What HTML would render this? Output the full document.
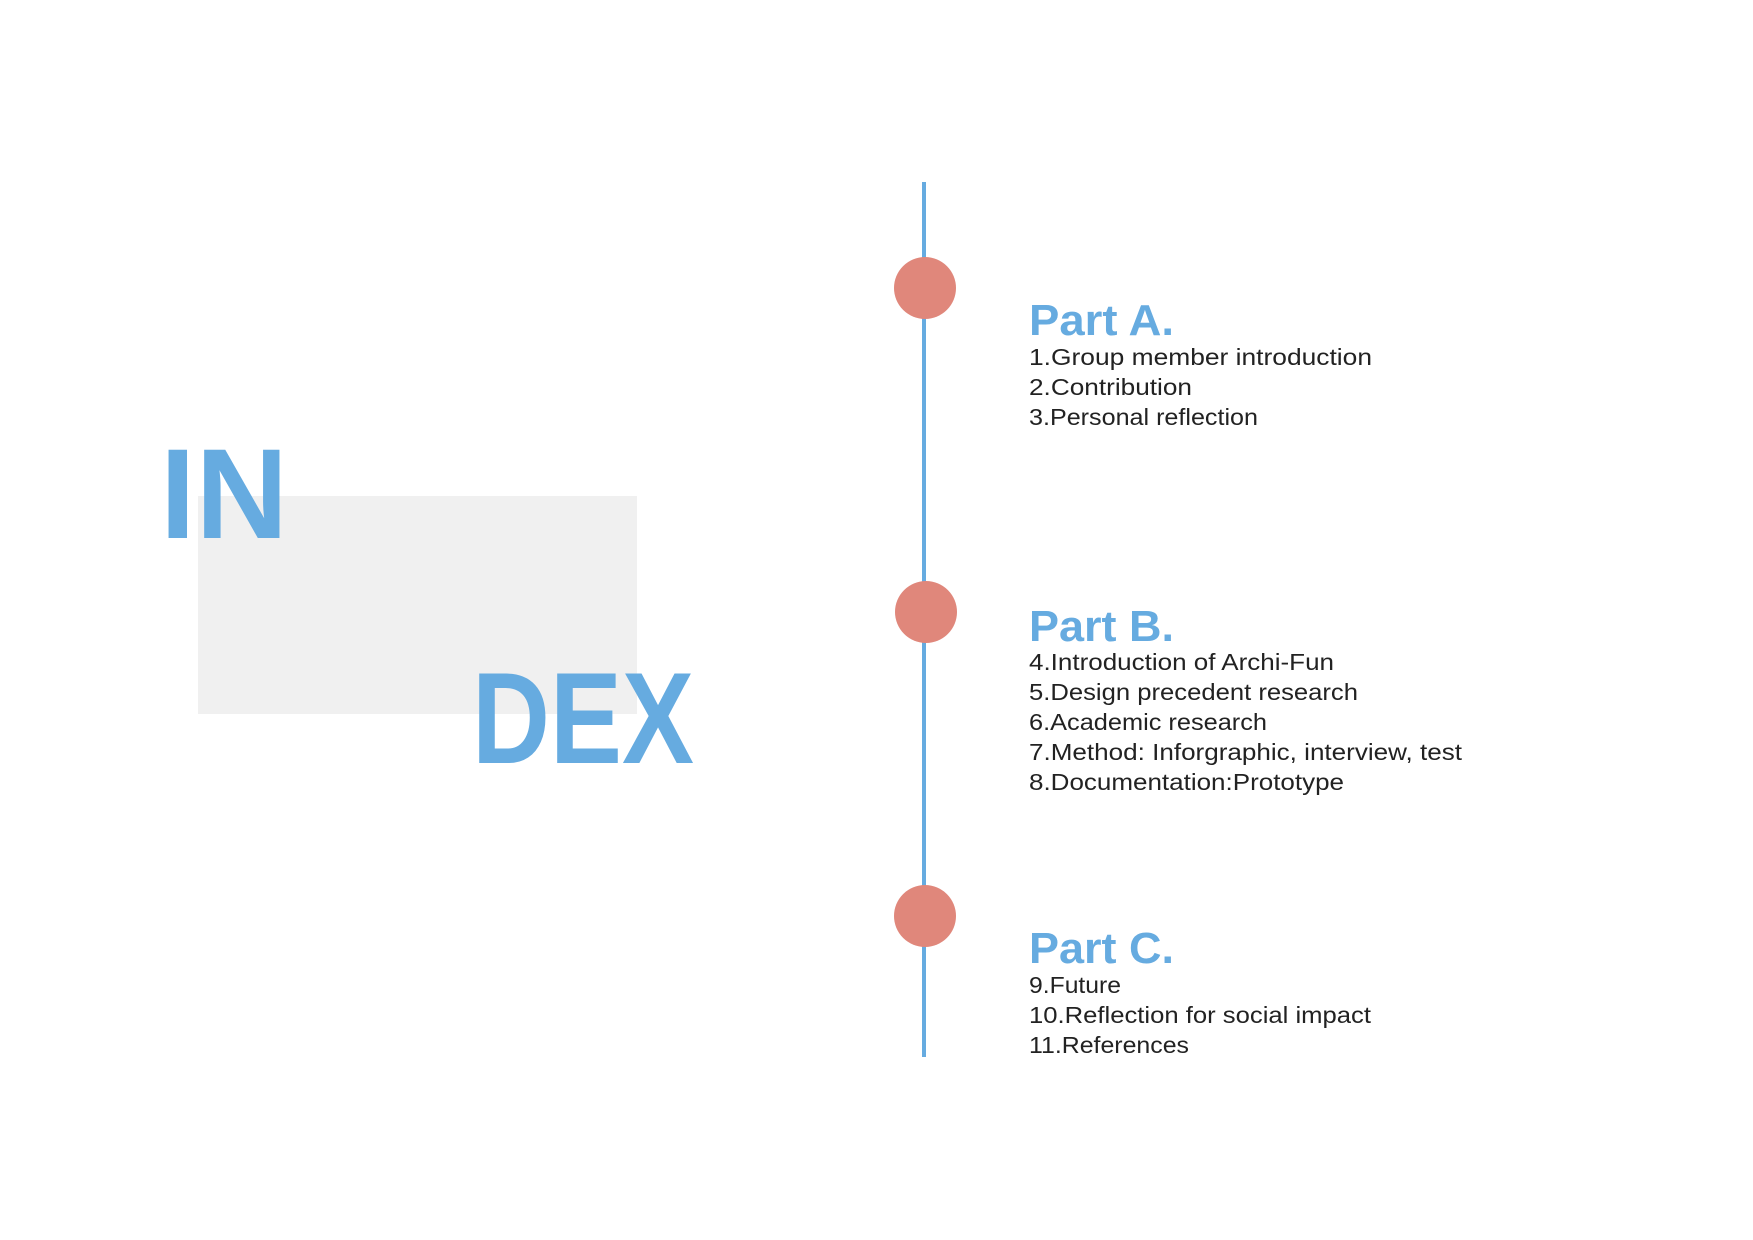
<!DOCTYPE html>
<html><head><meta charset="utf-8"><style>
html,body{margin:0;padding:0;background:#fff;}
svg{display:block;}
.t{font-family:"Liberation Sans",sans-serif;font-weight:bold;fill:#66abe0;}
.i{font-family:"Liberation Sans",sans-serif;font-size:23px;fill:#222;}
</style></head><body>
<svg width="1753" height="1240" viewBox="0 0 1753 1240" xmlns="http://www.w3.org/2000/svg">
<rect width="1753" height="1240" fill="#fff"/>
<rect x="198" y="496" width="439" height="218" fill="#f0f0f0"/>
<text class="t" x="160" y="538" font-size="128" textLength="128" lengthAdjust="spacingAndGlyphs">IN</text>
<text class="t" x="472" y="763" font-size="130" textLength="222" lengthAdjust="spacingAndGlyphs">DEX</text>
<line x1="924" y1="182" x2="924" y2="1057" stroke="#66abe0" stroke-width="4"/>
<circle cx="925" cy="288" r="31" fill="#e0877b"/>
<circle cx="926" cy="612" r="31" fill="#e0877b"/>
<circle cx="925" cy="916" r="31" fill="#e0877b"/>
<text class="t" x="1029" y="335" font-size="44" textLength="145" lengthAdjust="spacingAndGlyphs">Part A.</text>
<text class="i" x="1029" y="365" textLength="343" lengthAdjust="spacingAndGlyphs">1.Group member introduction</text>
<text class="i" x="1029" y="395" textLength="163" lengthAdjust="spacingAndGlyphs">2.Contribution</text>
<text class="i" x="1029" y="425" textLength="229" lengthAdjust="spacingAndGlyphs">3.Personal reflection</text>
<text class="t" x="1029" y="641" font-size="44" textLength="145" lengthAdjust="spacingAndGlyphs">Part B.</text>
<text class="i" x="1029" y="670" textLength="305" lengthAdjust="spacingAndGlyphs">4.Introduction of Archi-Fun</text>
<text class="i" x="1029" y="700" textLength="329" lengthAdjust="spacingAndGlyphs">5.Design precedent research</text>
<text class="i" x="1029" y="730" textLength="238" lengthAdjust="spacingAndGlyphs">6.Academic research</text>
<text class="i" x="1029" y="760" textLength="433" lengthAdjust="spacingAndGlyphs">7.Method: Inforgraphic, interview, test</text>
<text class="i" x="1029" y="790" textLength="315" lengthAdjust="spacingAndGlyphs">8.Documentation:Prototype</text>
<text class="t" x="1029" y="963" font-size="44" textLength="145" lengthAdjust="spacingAndGlyphs">Part C.</text>
<text class="i" x="1029" y="993" textLength="92" lengthAdjust="spacingAndGlyphs">9.Future</text>
<text class="i" x="1029" y="1023" textLength="342" lengthAdjust="spacingAndGlyphs">10.Reflection for social impact</text>
<text class="i" x="1029" y="1053" textLength="160" lengthAdjust="spacingAndGlyphs">11.References</text>
</svg>
</body></html>
